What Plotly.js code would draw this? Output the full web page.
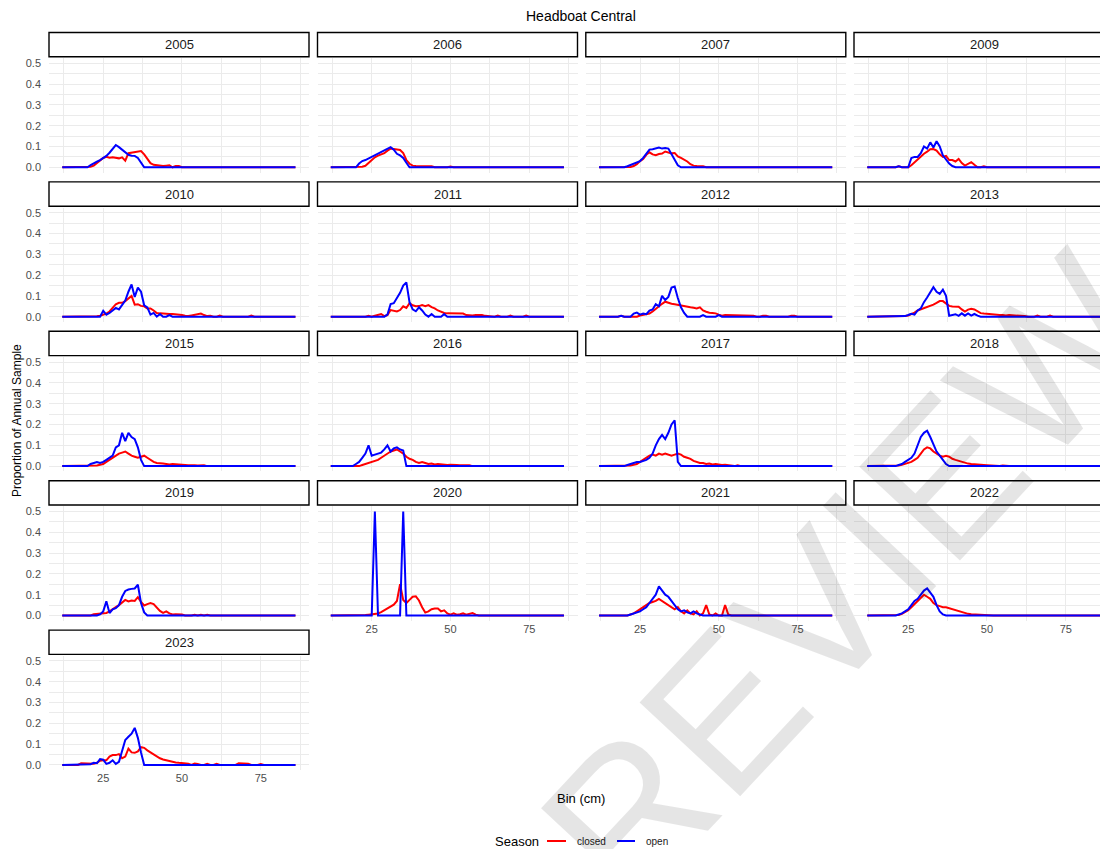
<!DOCTYPE html>
<html><head><meta charset="utf-8">
<script src="https://cdn.plot.ly/plotly-3.0.1.min.js"></script>
<style>html,body{margin:0;padding:0;overflow:hidden;background:#fff}#chart{width:1120px;height:849px}</style>
</head><body><div id="chart"></div>
<script>
const bins = [12,13,14,15,16,17,18,19,20,21,22,23,24,25,26,27,28,29,30,31,32,33,34,35,36,37,38,39,40,41,42,43,44,45,46,47,48,49,50,51,52,53,54,55,56,57,58,59,60,61,62,63,64,65,66,67,68,69,70,71,72,73,74,75,76,77,78,79,80,81,82,83,84,85,86];
const years = ['2005','2006','2007','2009','2010','2011','2012','2013','2015','2016','2017','2018','2019','2020','2021','2022','2023'];
const seasons = ['closed','open'];
const xTicks = [25,50,75];
const xMinor = [12.5,37.5,62.5,87.5];
const yTicks = [0,0.1,0.2,0.3,0.4,0.5];
const yMinor = [0.05,0.15,0.25,0.35,0.45];

// bins 12-21 | 22-31 | 32-41 | 42-51 | 52-61 | 62-71 | 72-81 | 82-86
const closed2005 = [0,0,0,0,0,0,0,0,0,0.003, 0.008,0.02,0.035,0.045,0.05,0.046,0.048,0.046,0.043,0.048, 0.032,0.068,0.07,0.072,0.075,0.078,0.062,0.04,0.02,0.012, 0.01,0.008,0.006,0.008,0.01,0,0.006,0.006,0,0, 0,0,0,0,0,0,0,0,0,0, 0,0,0,0,0,0,0,0,0,0, 0,0,0,0,0,0,0,0,0,0, 0,0,0,0,0];
const open2005 = [0,0,0,0,0,0,0,0,0,0.01, 0.02,0.027,0.035,0.043,0.055,0.07,0.09,0.107,0.097,0.085, 0.072,0.06,0.056,0.055,0.045,0.02,0,0,0,0, 0,0,0,0,0,0,0,0,0,0, 0,0,0,0,0,0,0,0,0,0, 0,0,0,0,0,0,0,0,0,0, 0,0,0,0,0,0,0,0,0,0, 0,0,0,0,0];
const closed2006 = [0,0,0,0,0,0,0,0,0,0.001, 0.003,0.007,0.02,0.035,0.048,0.056,0.062,0.068,0.08,0.09, 0.088,0.086,0.083,0.068,0.035,0.017,0.008,0.006,0.006,0.006, 0.006,0.006,0.005,0,0,0,0,0,0.004,0, 0,0,0,0,0,0,0,0,0,0, 0,0,0,0,0,0,0,0,0,0, 0,0,0,0,0,0,0,0,0,0, 0,0,0,0,0];
const open2006 = [0,0,0,0,0,0,0,0,0,0.018, 0.03,0.035,0.043,0.052,0.058,0.065,0.072,0.083,0.09,0.097, 0.085,0.065,0.057,0.045,0.022,0,0,0,0,0, 0,0,0,0,0,0,0,0,0,0, 0,0,0,0,0,0,0,0,0,0, 0,0,0,0,0,0,0,0,0,0, 0,0,0,0,0,0,0,0,0,0, 0,0,0,0,0];
const closed2007 = [0,0,0,0,0,0,0,0,0,0, 0.002,0.006,0.015,0.03,0.04,0.06,0.072,0.062,0.058,0.064, 0.066,0.076,0.071,0.067,0.069,0.052,0.045,0.038,0.028,0.015, 0.008,0.006,0.006,0.005,0,0,0,0,0,0, 0,0,0,0,0,0,0,0,0,0, 0,0,0,0,0,0,0,0,0,0, 0,0,0,0,0,0,0,0,0,0, 0,0,0,0,0];
const open2007 = [0,0,0,0,0,0,0,0,0,0.005, 0.012,0.018,0.024,0.03,0.045,0.068,0.085,0.087,0.09,0.095, 0.09,0.093,0.09,0.065,0.035,0.01,0,0,0,0, 0,0,0,0,0,0,0,0,0,0, 0,0,0,0,0,0,0,0,0,0, 0,0,0,0,0,0,0,0,0,0, 0,0,0,0,0,0,0,0,0,0, 0,0,0,0,0];
const closed2009 = [0,0,0,0,0,0,0,0,0,0, 0.005,0,0,0,0.01,0.025,0.04,0.055,0.065,0.075, 0.087,0.088,0.08,0.062,0.05,0.055,0.035,0.035,0.028,0.04, 0.02,0.008,0.015,0.025,0.012,0,0,0.005,0,0, 0,0,0,0,0,0,0,0,0,0, 0,0,0,0,0,0,0,0,0,0, 0,0,0,0,0,0,0,0,0,0, 0,0,0,0,0];
const open2009 = [0,0,0,0,0,0,0,0,0,0, 0.005,0,0,0,0.045,0.05,0.05,0.068,0.1,0.09, 0.12,0.095,0.125,0.1,0.058,0.035,0.018,0.006,0,0, 0,0,0,0,0,0,0,0,0,0, 0,0,0,0,0,0,0,0,0,0, 0,0,0,0,0,0,0,0,0,0, 0,0,0,0,0,0,0,0,0,0, 0,0,0,0,0];
const closed2010 = [0,0,0,0,0,0,0,0,0,0, 0,0.002,0.005,0.01,0.015,0.025,0.045,0.06,0.067,0.067, 0.075,0.09,0.1,0.058,0.06,0.052,0.05,0.04,0.04,0.03, 0.018,0.016,0.014,0.013,0.013,0.013,0.012,0.012,0.008,0.005, 0.003,0.006,0.01,0.014,0.015,0.008,0.003,0.005,0,0, 0.005,0,0,0,0,0,0,0,0,0, 0.005,0,0,0,0,0,0,0,0,0, 0,0,0,0,0];
const open2010 = [0,0,0,0,0,0,0,0,0,0, 0,0,0,0.028,0.01,0.018,0.03,0.042,0.035,0.06, 0.078,0.12,0.155,0.095,0.14,0.12,0.055,0.045,0.01,0.018, 0,0.013,0,0,0.008,0,0,0,0,0, 0,0,0,0,0,0,0,0,0,0, 0,0,0,0,0,0,0,0,0,0, 0,0,0,0,0,0,0,0,0,0, 0,0,0,0,0];
const closed2011 = [0,0,0,0,0,0,0,0,0,0, 0,0,0.004,0,0.005,0.008,0.013,0.003,0.008,0.032, 0.028,0.025,0.032,0.05,0.042,0.065,0.055,0.05,0.051,0.056, 0.051,0.056,0.046,0.04,0.03,0.024,0.018,0.016,0.016,0.016, 0.016,0.015,0.015,0.008,0.006,0.006,0.008,0.008,0.008,0.004, 0.003,0,0,0.005,0,0,0,0.005,0,0, 0,0,0.005,0,0,0,0,0,0,0, 0,0,0,0,0];
const open2011 = [0,0,0,0,0,0,0,0,0,0, 0,0,0,0,0,0,0,0,0.01,0.061, 0.065,0.09,0.115,0.15,0.165,0.07,0.035,0.026,0.045,0.03, 0.01,0,0.013,0,0,0,0.013,0,0,0, 0,0,0,0,0,0,0,0,0,0, 0,0,0,0,0,0,0,0,0,0, 0,0,0,0,0,0,0,0,0,0, 0,0,0,0,0];
const closed2012 = [0,0,0,0,0,0,0,0.004,0,0, 0,0,0,0.006,0.008,0.01,0.015,0.025,0.038,0.05, 0.062,0.072,0.066,0.062,0.06,0.057,0.052,0.048,0.046,0.045, 0.043,0.04,0.045,0.03,0.024,0.019,0.018,0.016,0.01,0.005, 0.008,0.008,0.006,0.008,0.008,0.006,0.008,0.007,0.006,0.005, 0,0,0.005,0.005,0,0,0,0,0,0, 0,0.005,0.005,0,0,0,0,0,0,0, 0,0,0,0,0];
const open2012 = [0,0,0,0,0,0,0,0.004,0,0, 0,0.015,0.02,0.01,0.015,0.012,0.029,0.035,0.06,0.05, 0.1,0.08,0.095,0.14,0.145,0.09,0.045,0.018,0,0, 0,0,0,0.008,0,0,0,0,0.008,0, 0,0,0,0,0,0,0,0,0,0, 0,0,0,0,0,0,0,0,0,0, 0,0,0,0,0,0,0,0,0,0, 0,0,0,0,0];
const closed2013 = [0,0,0,0,0,0,0,0,0,0, 0,0,0.003,0.006,0.012,0.02,0.03,0.035,0.04,0.045, 0.05,0.058,0.066,0.075,0.075,0.062,0.052,0.049,0.048,0.048, 0.035,0.025,0.034,0.038,0.035,0.024,0.017,0.015,0.013,0.011, 0.01,0.009,0.008,0.008,0.006,0.008,0.007,0.006,0.008,0.006, 0.003,0,0,0,0.005,0,0,0,0.005,0, 0,0,0,0,0,0,0,0,0,0, 0,0,0,0,0];
const open2013 = [0,0,0,0,0,0,0,0,0,0, 0,0,0.003,0.008,0.014,0.01,0.03,0.04,0.07,0.092, 0.12,0.142,0.12,0.11,0.13,0.1,0.005,0.008,0.012,0.004, 0.016,0.005,0.016,0.005,0.013,0.005,0,0,0,0, 0,0,0,0,0,0,0,0,0,0, 0,0,0,0,0,0,0,0,0,0, 0,0,0,0,0,0,0,0,0,0, 0,0,0,0,0];
const closed2015 = [0,0,0,0,0,0,0,0,0,0, 0,0.003,0.006,0.01,0.02,0.03,0.04,0.05,0.06,0.065, 0.07,0.06,0.05,0.045,0.04,0.045,0.05,0.04,0.03,0.02, 0.015,0.012,0.012,0.01,0.008,0.01,0.008,0.006,0.006,0.005, 0.004,0.005,0.004,0.003,0.005,0.004,0,0,0,0, 0,0,0,0,0,0,0,0,0,0, 0,0,0,0,0,0,0,0,0,0, 0,0,0,0,0];
const open2015 = [0,0,0,0,0,0,0,0,0,0.01, 0.015,0.02,0.015,0.02,0.03,0.04,0.05,0.09,0.1,0.16, 0.12,0.16,0.14,0.13,0.09,0.03,0,0,0,0, 0,0,0,0,0,0,0,0,0,0, 0,0,0,0,0,0,0,0,0,0, 0,0,0,0,0,0,0,0,0,0, 0,0,0,0,0,0,0,0,0,0, 0,0,0,0,0];
const closed2016 = [0,0,0,0,0,0,0,0,0,0, 0.005,0.01,0.015,0.02,0.025,0.03,0.04,0.05,0.06,0.07, 0.075,0.08,0.07,0.06,0.045,0.035,0.03,0.02,0.015,0.02, 0.015,0.01,0.012,0.008,0.01,0.008,0.006,0.005,0.006,0.004, 0.005,0.004,0.005,0.003,0.004,0,0,0,0,0, 0,0,0,0,0,0,0,0,0,0, 0,0,0,0,0,0,0,0,0,0, 0,0,0,0,0];
const open2016 = [0,0,0,0,0,0,0,0,0.01,0.02, 0.04,0.06,0.1,0.05,0.055,0.06,0.065,0.08,0.1,0.07, 0.085,0.09,0.08,0.075,0,0,0,0,0,0, 0,0,0,0,0,0,0,0,0,0, 0,0,0,0,0,0,0,0,0,0, 0,0,0,0,0,0,0,0,0,0, 0,0,0,0,0,0,0,0,0,0, 0,0,0,0,0];
const closed2017 = [0,0,0,0,0,0,0,0,0,0, 0.003,0.006,0.01,0.02,0.03,0.04,0.05,0.055,0.05,0.06, 0.055,0.06,0.055,0.05,0.055,0.06,0.055,0.045,0.04,0.035, 0.025,0.02,0.015,0.015,0.01,0.012,0.008,0.01,0.006,0.005, 0.006,0.004,0.005,0,0.004,0,0,0,0,0, 0,0,0,0,0,0,0,0,0,0, 0,0,0,0,0,0,0,0,0,0, 0,0,0,0,0];
const open2017 = [0,0,0,0,0,0,0,0,0,0.005, 0.01,0.015,0.02,0.02,0.025,0.03,0.04,0.06,0.1,0.13, 0.15,0.13,0.16,0.2,0.22,0.02,0,0,0,0, 0,0,0,0,0,0,0,0,0,0, 0,0,0,0,0,0,0,0,0,0, 0,0,0,0,0,0,0,0,0,0, 0,0,0,0,0,0,0,0,0,0, 0,0,0,0,0];
const closed2018 = [0,0,0,0,0,0,0,0,0,0, 0.003,0.006,0.01,0.015,0.02,0.03,0.04,0.06,0.08,0.09, 0.085,0.07,0.06,0.05,0.045,0.05,0.045,0.035,0.03,0.025, 0.02,0.015,0.012,0.01,0.008,0.006,0.005,0.005,0.004,0.003, 0.004,0.003,0,0.003,0,0,0,0,0,0, 0,0,0,0.003,0,0,0,0,0,0, 0,0,0,0.003,0,0,0,0,0,0, 0,0,0,0,0];
const open2018 = [0,0,0,0,0,0,0,0,0,0, 0.005,0.01,0.02,0.03,0.04,0.06,0.1,0.14,0.16,0.17, 0.14,0.1,0.07,0.05,0.03,0.01,0,0,0,0, 0,0,0,0,0,0,0,0,0,0, 0,0,0,0,0,0,0,0,0,0, 0,0,0,0,0,0,0,0,0,0, 0,0,0,0,0,0,0,0,0,0, 0,0,0,0,0];
const closed2019 = [0,0,0,0,0,0,0,0,0,0, 0.006,0.007,0.008,0.01,0.012,0.02,0.032,0.04,0.05,0.065, 0.075,0.068,0.072,0.07,0.088,0.065,0.048,0.055,0.06,0.055, 0.036,0.022,0.013,0.02,0.01,0.005,0.006,0.006,0.005,0, 0,0,0.004,0,0.004,0,0.004,0,0,0, 0,0,0,0,0,0,0,0,0,0, 0,0,0,0,0,0,0,0,0,0, 0,0,0,0,0];
const open2019 = [0,0,0,0,0,0,0,0,0,0, 0,0,0.005,0.02,0.068,0.012,0.03,0.035,0.05,0.09, 0.118,0.125,0.128,0.13,0.148,0.06,0.015,0,0,0, 0,0,0,0,0,0,0,0,0,0, 0,0,0,0,0,0,0,0,0,0, 0,0,0,0,0,0,0,0,0,0, 0,0,0,0,0,0,0,0,0,0, 0,0,0,0,0];
const closed2020 = [0,0,0,0,0,0,0,0,0,0, 0,0.002,0.004,0.005,0.007,0.01,0.016,0.025,0.034,0.045, 0.052,0.07,0.15,0.075,0.06,0.075,0.09,0.092,0.072,0.04, 0.014,0.02,0.03,0.034,0.034,0.02,0.025,0.01,0.004,0.01, 0.004,0.006,0.01,0.004,0.008,0.012,0.004,0,0,0, 0,0,0,0,0,0,0,0,0,0, 0,0,0,0,0,0,0,0,0,0, 0,0,0,0,0];
const open2020 = [0,0,0,0,0,0,0,0,0,0, 0,0,0,0,0.5,0,0,0,0,0, 0,0,0,0.5,0,0,0,0,0,0, 0,0,0,0,0,0,0,0,0,0, 0,0,0,0,0,0,0,0,0,0, 0,0,0,0,0,0,0,0,0,0, 0,0,0,0,0,0,0,0,0,0, 0,0,0,0,0];
const closed2021 = [0,0,0,0,0,0,0,0,0,0, 0.005,0.01,0.02,0.03,0.04,0.05,0.06,0.065,0.07,0.08, 0.07,0.06,0.05,0.04,0.03,0.04,0.02,0.01,0.025,0.01, 0.005,0.02,0,0.01,0.05,0.005,0,0.01,0,0, 0.05,0.005,0,0,0,0,0,0,0,0, 0,0,0,0,0,0,0,0,0,0, 0,0,0,0,0,0,0,0,0,0, 0,0,0,0,0];
const open2021 = [0,0,0,0,0,0,0,0,0,0, 0.005,0.01,0.015,0.02,0.03,0.04,0.06,0.08,0.1,0.14, 0.12,0.1,0.09,0.07,0.05,0.03,0.02,0.025,0.015,0.01, 0.02,0.01,0.005,0,0,0,0,0,0,0, 0,0,0,0,0,0,0,0,0,0, 0,0,0,0,0,0,0,0,0,0, 0,0,0,0,0,0,0,0,0,0, 0,0,0,0,0];
const closed2022 = [0,0,0,0,0,0,0,0,0,0, 0.003,0.008,0.015,0.025,0.04,0.055,0.065,0.08,0.1,0.09, 0.08,0.06,0.05,0.045,0.04,0.04,0.035,0.03,0.025,0.02, 0.015,0.01,0.008,0.006,0.005,0.004,0.003,0,0,0, 0,0,0,0,0,0,0,0,0,0, 0,0,0,0,0,0,0,0,0,0, 0,0,0,0,0,0,0,0,0,0, 0,0,0,0,0];
const open2022 = [0,0,0,0,0,0,0,0,0,0, 0.005,0.01,0.02,0.03,0.05,0.07,0.08,0.1,0.12,0.13, 0.11,0.09,0.05,0.02,0.005,0,0,0,0,0, 0,0,0,0,0,0,0,0,0,0, 0,0,0,0,0,0,0,0,0,0, 0,0,0,0,0,0,0,0,0,0, 0,0,0,0,0,0,0,0,0,0, 0,0,0,0,0];
const closed2023 = [0,0,0,0,0,0,0.008,0.008,0.008,0.007, 0.005,0.01,0.02,0.022,0.022,0.04,0.047,0.047,0.052,0.032, 0.04,0.078,0.06,0.058,0.065,0.085,0.082,0.07,0.06,0.048, 0.038,0.032,0.026,0.022,0.018,0.015,0.012,0.01,0.009,0.006, 0.006,0,0.006,0.004,0,0,0.005,0,0,0.005, 0,0,0,0,0,0,0.008,0.008,0.008,0.006, 0,0,0,0.004,0,0,0,0,0,0, 0,0,0,0,0];
const open2023 = [0,0,0,0,0,0,0,0,0,0.003, 0.01,0.008,0.028,0.025,0.005,0.01,0.022,0.005,0.015,0.07, 0.12,0.135,0.15,0.178,0.13,0.06,0,0,0,0, 0,0,0,0,0,0,0,0,0,0, 0,0,0,0,0,0,0,0,0,0, 0,0,0,0,0,0,0,0,0,0, 0,0,0,0,0,0,0,0,0,0, 0,0,0,0,0];

const closedSeries = [closed2005,closed2006,closed2007,closed2009,closed2010,closed2011,closed2012,closed2013,closed2015,closed2016,closed2017,closed2018,closed2019,closed2020,closed2021,closed2022,closed2023];
const openSeries = [open2005,open2006,open2007,open2009,open2010,open2011,open2012,open2013,open2015,open2016,open2017,open2018,open2019,open2020,open2021,open2022,open2023];
closedSeries.concat(openSeries).forEach((a,k)=>{ if(a.length!==bins.length) throw new Error('length mismatch in series '+k+': '+a.length); });

const W = 1120, H = 849;
const FONT = 'Liberation Sans, Arial, sans-serif';
const colLeft = [49, 317.5, 585.8, 854], panelW = 260;
const rowStep = 149.4, panelTop0 = 58.1, panelBot0 = 172.5, stripTop0 = 32.5, stripBot0 = 56.8;
const px = v => v / W, py = v => 1 - v / H;
const grid = '#ebebeb';

const traces = [];
const layout = {
  width: W, height: H, margin: {l:0, r:0, t:0, b:0},
  paper_bgcolor: '#fff', plot_bgcolor: '#fff', showlegend: false,
  font: {family: FONT, color: '#000'},
  shapes: [], annotations: []
};

years.forEach((yr, i) => {
  const r = Math.floor(i / 4), c = i % 4;
  const sfx = i === 0 ? '' : String(i + 1);
  const x0 = colLeft[c], x1 = x0 + panelW;
  const top = panelTop0 + r * rowStep, bot = panelBot0 + r * rowStep;
  const showX = (c === 0) ? (i === years.length - 1) : (r === 3);
  layout['xaxis' + sfx] = {
    domain: [px(x0), px(x1)], anchor: 'y' + sfx, range: [7.8, 90.3],
    tickmode: 'array', tickvals: xTicks, showticklabels: showX, ticks: '',
    showgrid: true, gridcolor: grid, gridwidth: 1,
    minor: {tickmode: 'array', tickvals: xMinor, showgrid: true, gridcolor: grid, gridwidth: 1},
    zeroline: false, showline: false, fixedrange: true,
    tickfont: {family: FONT, size: 11, color: '#4d4d4d'}
  };
  layout['yaxis' + sfx] = {
    domain: [py(bot), py(top)], anchor: 'x' + sfx, range: [-0.025, 0.525],
    tickmode: 'array', tickvals: yTicks, tickformat: '.1f',
    showticklabels: c === 0, ticks: '', ticklabelstandoff: 7,
    showgrid: true, gridcolor: grid, gridwidth: 1,
    minor: {tickmode: 'array', tickvals: yMinor, showgrid: true, gridcolor: grid, gridwidth: 1},
    zeroline: false, showline: false, fixedrange: true,
    tickfont: {family: FONT, size: 11, color: '#4d4d4d'}
  };
  traces.push({type: 'scatter', mode: 'lines', name: seasons[0], x: bins, y: closedSeries[i],
    xaxis: 'x' + sfx, yaxis: 'y' + sfx, line: {color: '#ff0000', width: 2}, hoverinfo: 'skip'});
  traces.push({type: 'scatter', mode: 'lines', name: seasons[1], x: bins, y: openSeries[i],
    xaxis: 'x' + sfx, yaxis: 'y' + sfx, line: {color: '#0000ff', width: 2}, hoverinfo: 'skip'});
  const st = stripTop0 + r * rowStep, sb = stripBot0 + r * rowStep;
  layout.shapes.push({type: 'rect', xref: 'paper', yref: 'paper', x0: px(x0), x1: px(x1), y0: py(sb), y1: py(st),
    line: {color: '#000', width: 1.4}, fillcolor: '#fff'});
  layout.annotations.push({xref: 'paper', yref: 'paper', x: px((x0 + x1) / 2), y: py((st + sb) / 2),
    text: yr, showarrow: false, xanchor: 'center', yanchor: 'middle', font: {family: FONT, size: 13, color: '#1a1a1a'}});
});

// titles
layout.annotations.push({xref:'paper', yref:'paper', x: px(581), y: py(16), text: 'Headboat Central', showarrow:false,
  xanchor:'center', yanchor:'middle', font:{family:FONT, size:14, color:'#000'}});
layout.annotations.push({xref:'paper', yref:'paper', x: px(581), y: py(798), text: 'Bin (cm)', showarrow:false,
  xanchor:'center', yanchor:'middle', font:{family:FONT, size:13, color:'#000'}});
layout.annotations.push({xref:'paper', yref:'paper', x: px(17), y: py(421), text: 'Proportion of Annual Sample', showarrow:false,
  textangle:-90, xanchor:'center', yanchor:'middle', font:{family:FONT, size:12, color:'#000'}});

// legend (drawn manually to match the compact key)
layout.annotations.push({xref:'paper', yref:'paper', x: px(493), y: py(841), text: 'Season', showarrow:false,
  xanchor:'left', yanchor:'middle', font:{family:FONT, size:13, color:'#000'}});
layout.shapes.push({type:'line', xref:'paper', yref:'paper', x0:px(547), x1:px(566), y0:py(841), y1:py(841), line:{color:'#ff0000', width:2}});
layout.annotations.push({xref:'paper', yref:'paper', x: px(575), y: py(841), text: seasons[0], showarrow:false,
  xanchor:'left', yanchor:'middle', font:{family:FONT, size:10, color:'#1a1a1a'}});
layout.shapes.push({type:'line', xref:'paper', yref:'paper', x0:px(617), x1:px(635), y0:py(841), y1:py(841), line:{color:'#0000ff', width:2}});
layout.annotations.push({xref:'paper', yref:'paper', x: px(644), y: py(841), text: seasons[1], showarrow:false,
  xanchor:'left', yanchor:'middle', font:{family:FONT, size:10, color:'#1a1a1a'}});

// watermark (cut off at the right and bottom edges, as in the reference)
layout.annotations.push({xref:'paper', yref:'paper', x: px(848), y: py(578), text: 'REVIEW', showarrow:false,
  textangle:-47, xanchor:'center', yanchor:'middle', font:{family:FONT, size:200, color:'rgba(0,0,0,0.1)'}});

Plotly.newPlot('chart', traces, layout, {staticPlot: true, displayModeBar: false});
</script>
</body></html>
